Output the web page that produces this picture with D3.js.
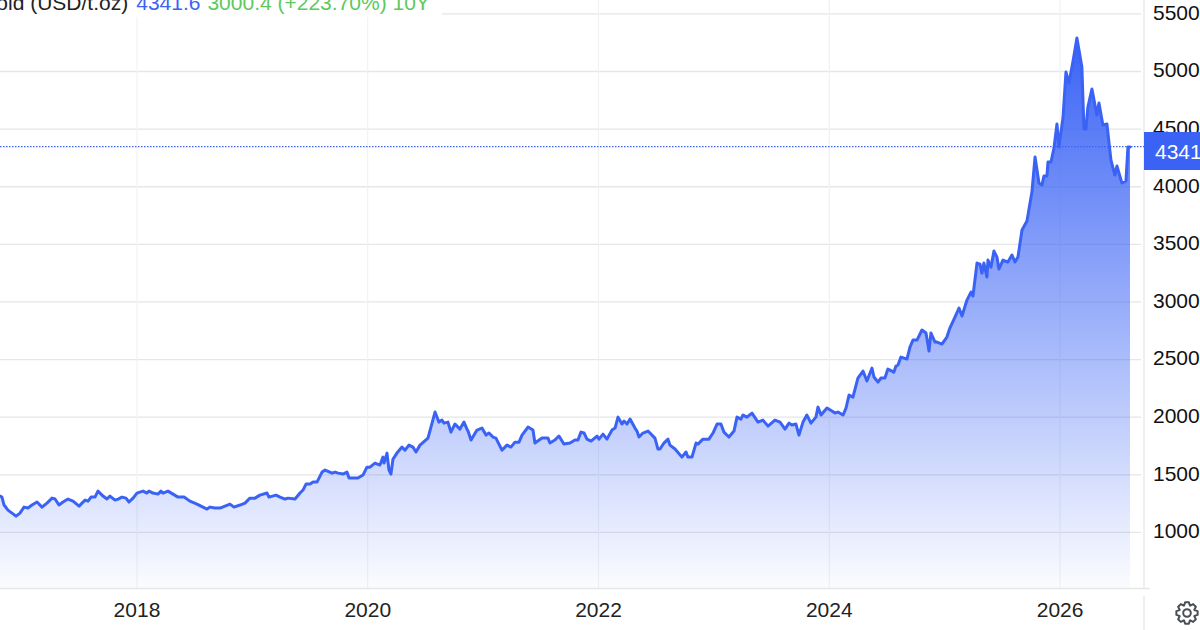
<!DOCTYPE html>
<html>
<head>
<meta charset="utf-8">
<script src="https://cdn.jsdelivr.net/npm/d3@7"></script>
<style>
html,body{margin:0;padding:0;background:#fff;overflow:hidden}
svg{display:block}
text{font-family:"Liberation Sans",Arial,sans-serif}
</style>
</head>
<body>
<div id="chart"></div>
<script>
const years=[2016.813,2016.830,2016.848,2016.882,2016.917,2016.952,2016.986,2017.021,2017.056,2017.090,2017.134,2017.177,2017.220,2017.264,2017.290,2017.324,2017.359,2017.402,2017.446,2017.498,2017.550,2017.576,2017.602,2017.636,2017.662,2017.706,2017.740,2017.766,2017.810,2017.836,2017.870,2017.905,2017.931,2017.966,
2018.000,2018.052,2018.087,2018.104,2018.139,2018.182,2018.208,2018.226,2018.269,2018.312,2018.356,2018.408,2018.459,2018.520,2018.572,2018.607,2018.633,2018.676,2018.720,2018.763,2018.806,2018.841,2018.893,2018.936,2018.979,
2019.023,2019.066,2019.127,2019.144,2019.205,2019.240,2019.283,2019.309,2019.370,2019.413,2019.439,2019.465,2019.500,2019.526,2019.560,2019.604,2019.630,2019.691,2019.717,2019.743,2019.786,2019.820,2019.838,2019.915,2019.959,2019.993,
2020.019,2020.063,2020.106,2020.132,2020.141,2020.167,2020.184,2020.201,2020.219,2020.253,2020.297,2020.323,2020.357,2020.392,2020.418,2020.453,2020.522,2020.583,2020.617,2020.643,2020.661,2020.695,2020.721,2020.756,2020.799,2020.834,2020.860,2020.869,2020.895,2020.947,2020.990,
2021.025,2021.051,2021.085,2021.111,2021.163,2021.207,2021.241,2021.276,2021.311,2021.337,2021.389,2021.432,2021.449,2021.510,2021.562,2021.579,2021.622,2021.657,2021.700,2021.753,2021.796,2021.822,2021.848,2021.874,2021.900,2021.935,2021.987,
2022.004,2022.039,2022.073,2022.117,2022.143,2022.169,2022.203,2022.221,2022.247,2022.273,2022.316,2022.333,2022.351,2022.385,2022.429,2022.489,2022.515,2022.533,2022.567,2022.602,2022.619,2022.663,2022.723,2022.758,2022.775,2022.810,2022.845,2022.862,2022.905,2022.957,2022.992,
2023.027,2023.061,2023.087,2023.130,2023.174,2023.200,2023.234,2023.252,2023.286,2023.330,2023.382,2023.425,2023.469,2023.529,2023.573,2023.616,2023.651,2023.676,2023.711,2023.737,2023.772,2023.806,2023.841,2023.884,2023.902,2023.928,2023.980,
2024.023,2024.049,2024.075,2024.119,2024.145,2024.171,2024.205,2024.248,2024.292,2024.326,2024.370,2024.387,2024.422,2024.447,2024.482,2024.508,2024.560,2024.578,2024.595,2024.621,2024.673,2024.699,2024.725,2024.760,2024.803,2024.838,2024.864,2024.881,2024.916,2024.933,2024.976,
2025.019,2025.045,2025.089,2025.124,2025.150,2025.193,2025.228,2025.245,2025.280,2025.306,2025.323,2025.340,2025.366,2025.375,2025.401,2025.427,2025.453,2025.470,2025.505,2025.548,2025.583,2025.609,2025.635,2025.670,2025.713,2025.756,2025.783,2025.817,2025.843,2025.860,2025.886,2025.895,2025.921,2025.947,2025.973,2025.990,
2026.025,2026.051,2026.077,2026.111,2026.146,2026.189,2026.207,2026.224,2026.241,2026.276,2026.319,2026.337,2026.371,2026.406,2026.441,2026.475,2026.493,2026.536,2026.571,2026.588,2026.606];
const prices=[1312,1303,1234,1190,1164,1138,1164,1216,1208,1234,1260,1216,1251,1294,1286,1234,1260,1286,1268,1225,1277,1268,1303,1303,1355,1312,1286,1312,1277,1286,1303,1294,1260,1294,
1338,1355,1338,1355,1338,1329,1355,1338,1355,1329,1303,1303,1268,1242,1216,1199,1216,1208,1208,1225,1242,1216,1234,1251,1294,
1294,1320,1338,1303,1320,1303,1286,1294,1286,1338,1364,1416,1416,1433,1433,1520,1537,1511,1520,1511,1503,1520,1468,1468,1494,1563,
1563,1598,1581,1650,1598,1685,1537,1503,1633,1685,1737,1711,1754,1737,1694,1754,1815,2041,1954,1971,1945,1954,1867,1937,1893,1954,1893,1876,1798,1885,1902,
1841,1859,1824,1815,1711,1754,1737,1780,1780,1841,1911,1885,1772,1815,1815,1772,1798,1833,1763,1772,1798,1798,1867,1859,1806,1789,1833,
1806,1850,1806,1885,1902,1997,1937,1963,1937,1980,1902,1876,1824,1859,1876,1815,1720,1720,1772,1806,1754,1720,1650,1694,1650,1650,1772,1763,1806,1806,1859,
1937,1937,1867,1824,1876,1997,1980,2015,1997,2032,1954,1971,1919,1971,1954,1893,1945,1928,1937,1841,1954,2015,1945,1997,2084,2015,2076,
2050,2032,2041,2015,2076,2188,2171,2336,2397,2310,2423,2345,2301,2336,2336,2414,2388,2440,2449,2518,2501,2605,2666,2666,2753,2727,2570,2727,2648,2648,2631,
2692,2770,2865,2944,2874,3013,3082,3048,3334,3325,3247,3334,3213,3360,3299,3438,3386,3282,3360,3343,3404,3343,3386,3621,3699,3950,4254,4029,4011,4089,4089,4211,4211,4332,4541,4341,
4593,4992,4897,5079,5287,5035,4497,4497,4688,4845,4619,4723,4532,4541,4228,4098,4176,4029,4046,4341,4341];
const priceTicks=[1000,1500,2000,2500,3000,3500,4000,4500,5000,5500];
const yearTicks=[2018,2020,2022,2024,2026];
const lastLabel="4341";
const lastPrice=4341;
const headerParts=[
  {text:"Gold (USD/t.oz)",color:"#222222",gap:8},
  {text:"4341.6",color:"#3a63f5",gap:7},
  {text:"3000.4 (+223.70%) 10Y",color:"#5cc95c",gap:0}
];

const W=1200,H=630,plotR=1144,plotB=588;
const BLUE="#3a63f5",GRID="#e6e6e6",VGRID="#eff2f4";
const svg=d3.select("#chart").append("svg").attr("width",W).attr("height",H);
const x=d3.scaleLinear().domain([2016.813,2026.606]).range([0,1130]);
const y=d3.scaleLinear().domain([514,5500]).range([plotB,13.5]);

const defs=svg.append("defs");
const grad=defs.append("linearGradient").attr("id","fade").attr("gradientUnits","userSpaceOnUse")
  .attr("x1",0).attr("x2",0).attr("y1",y(5287)).attr("y2",plotB);
grad.append("stop").attr("offset",0).attr("stop-color",BLUE).attr("stop-opacity",1);
grad.append("stop").attr("offset",1).attr("stop-color",BLUE).attr("stop-opacity",0.02);

// gridlines
svg.append("g").selectAll("line").data(priceTicks).join("line")
  .attr("x1",0).attr("x2",1141).attr("y1",d=>y(d)+.4).attr("y2",d=>y(d)+.4)
  .attr("stroke",GRID).attr("stroke-width",1.3);
svg.append("g").selectAll("line").data(yearTicks).join("line")
  .attr("x1",d=>x(d)).attr("x2",d=>x(d)).attr("y1",0).attr("y2",plotB)
  .attr("stroke",VGRID).attr("stroke-width",1.2);

// area + line
const pts=d3.zip(years,prices);
svg.append("path").datum(pts)
  .attr("fill","url(#fade)")
  .attr("d",d3.area().x(d=>x(d[0])).y0(plotB).y1(d=>y(d[1])));
svg.append("path").datum(pts)
  .attr("fill","none").attr("stroke",BLUE).attr("stroke-width",3).attr("stroke-linejoin","round").attr("stroke-linecap","round")
  .attr("d",d3.line().x(d=>x(d[0])).y(d=>y(d[1])));

// frame
svg.append("line").attr("x1",0).attr("x2",1150).attr("y1",plotB+.5).attr("y2",plotB+.5).attr("stroke",GRID).attr("stroke-width",1.3);
svg.append("line").attr("x1",plotR).attr("x2",plotR).attr("y1",0).attr("y2",plotB).attr("stroke",GRID).attr("stroke-width",1.3);
svg.append("line").attr("x1",plotR).attr("x2",plotR).attr("y1",596).attr("y2",H).attr("stroke",GRID).attr("stroke-width",1.3);

// axes
const ya=svg.append("g").attr("transform",`translate(${plotR+9},-1)`)
  .call(d3.axisRight(y).tickValues(priceTicks).tickSize(0).tickPadding(0).tickFormat(d3.format("d")));
ya.select(".domain").remove();
ya.selectAll("text").attr("font-size",21).attr("fill","#111").style("font-family",'"Liberation Sans",Arial,sans-serif');
const xa=svg.append("g").attr("transform",`translate(-0.5,${plotB})`)
  .call(d3.axisBottom(x).tickValues(yearTicks).tickSize(0).tickPadding(14).tickFormat(d3.format("d")));
xa.select(".domain").remove();
xa.selectAll("text").attr("font-size",21).attr("fill","#222").style("font-family",'"Liberation Sans",Arial,sans-serif');

// last price
svg.append("line").attr("x1",0).attr("x2",plotR).attr("y1",y(lastPrice)-.5).attr("y2",y(lastPrice)-.5)
  .attr("stroke",BLUE).attr("stroke-width",1.3).attr("stroke-dasharray","1.5 1.5");
svg.append("rect").attr("x",plotR).attr("y",132).attr("width",W-plotR).attr("height",38).attr("fill",BLUE);
svg.append("text").attr("x",1155).attr("y",159).attr("font-size",21).attr("fill","#fff").text(lastLabel);

// header
svg.append("rect").attr("x",0).attr("y",0).attr("width",442).attr("height",17).attr("fill","#fff");
const hdr=svg.append("text").attr("y",10).attr("font-size",21).attr("x",-20);
headerParts.forEach((p,i)=>{
  hdr.append("tspan").attr("fill",p.color).attr("dx",i?headerParts[i-1].gap:0).text(p.text);
});

// settings gear
const cx=1187,cy=613,teeth=8;
const gear=d3.range(teeth).flatMap(i=>{
  const a=i*2*Math.PI/teeth, s=Math.PI/teeth;
  return [[a-s*.95,8],[a-s*.45,10.8],[a+s*.45,10.8],[a+s*.95,8]];
});
svg.append("path").attr("transform",`translate(${cx},${cy})`)
  .attr("d",d3.lineRadial().angle(d=>d[0]).radius(d=>d[1]).curve(d3.curveLinearClosed)(gear))
  .attr("fill","none").attr("stroke","#4a4f57").attr("stroke-width",2).attr("stroke-linejoin","round");
svg.append("circle").attr("cx",cx).attr("cy",cy).attr("r",3.8).attr("fill","none").attr("stroke","#4a4f57").attr("stroke-width",2);
</script>
</body>
</html>
